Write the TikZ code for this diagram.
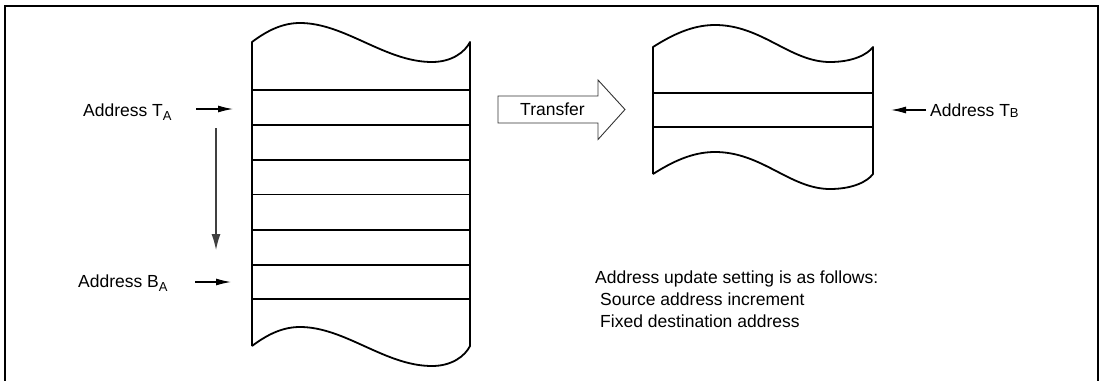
\documentclass[tikz,border=0pt]{standalone}
\usepackage{fontspec}
\setmainfont{Liberation Sans}
\usetikzlibrary{arrows.meta}
\newcommand\mysub[2][4]{\raisebox{-#1pt}{\fontsize{13}{13}\selectfont #2}}
\begin{document}
\begin{tikzpicture}[x=1pt,y=-1pt,
  lbl/.style={inner sep=0pt, anchor=base west, font=\fontsize{17.5}{21}\selectfont},
  blk/.style={line width=1.8pt, line join=round},
  rowline/.style={line width=1.7pt},
  ptr/.style={line width=1.2pt, -{Latex[length=15pt,width=7pt]}},
  vptr/.style={line width=1.2pt, black!75, -{Latex[length=16pt,width=9pt]}},
  frameline/.style={line width=2.5pt},
  xfer/.style={line width=0.9pt, draw=black!80, line join=miter}]
\useasboundingbox (0,0) rectangle (1102,380);
% outer frame
\draw[frameline] (5,382) -- (5,6) -- (1098,6) -- (1098,382);

% left memory block
\draw[blk] (252,346) -- (252,42)
  .. controls (268,30) and (283,23) .. (300,23)
  .. controls (345,23) and (385,62) .. (432,62)
  .. controls (452,62) and (465,52) .. (470,42)
  -- (470,346)
  .. controls (465,356) and (452,366) .. (432,366)
  .. controls (385,366) and (345,327) .. (300,327)
  .. controls (283,327) and (268,334) .. (252,346);
\foreach \y in {90,125,160,194.5,230,265,299}
  \draw[rowline] (252,\y) -- (470,\y);

% right memory block
\draw[blk] (653,174) -- (653,47)
  .. controls (672,35) and (692,25) .. (715,25)
  .. controls (762,25) and (790,62) .. (830,62)
  .. controls (852,62) and (867,55) .. (873,47)
  -- (873,174)
  .. controls (867,182) and (852,189) .. (830,189)
  .. controls (790,189) and (762,152) .. (715,152)
  .. controls (692,152) and (672,162) .. (653,174);
\draw[rowline] (653,93) -- (873,93);
\draw[rowline] (653,127) -- (873,127);

% labels
\node[lbl] (ta) at (83,116) {Address T\mysub{A}};
\node[lbl] (ba) at (78,287) {Address B\mysub{A}};
\node[lbl] (tb) at (930,116) {Address T\mysub[1.5]{B}};
\node[lbl] (t1) at (595,283) {Address update setting is as follows:};
\node[lbl] (t2) at (600,305) {Source address increment};
\node[lbl] (t3) at (600,327) {Fixed destination address};

% pointer arrows
\coordinate (taS) at (196,109);
\coordinate (taE) at (233,109);
\coordinate (baS) at (195,282);
\coordinate (baE) at (231,282);
\coordinate (dnS) at (216,128);
\coordinate (dnE) at (216,250);
\coordinate (tbS) at (926,110);
\coordinate (tbE) at (891,110);
\draw[ptr] (taS) -- (taE);
\draw[ptr] (baS) -- (baE);
\draw[vptr] (dnS) -- (dnE);
\draw[ptr] (tbS) -- (tbE);

% transfer arrow
\draw[xfer] (498,96) -- (598,96) -- (598,80) -- (625,109.5) -- (598,139.5) -- (598,123) -- (498,123) -- cycle;
\node[lbl] (xf) at (520,115) {Transfer};
\end{tikzpicture}
\end{document}
